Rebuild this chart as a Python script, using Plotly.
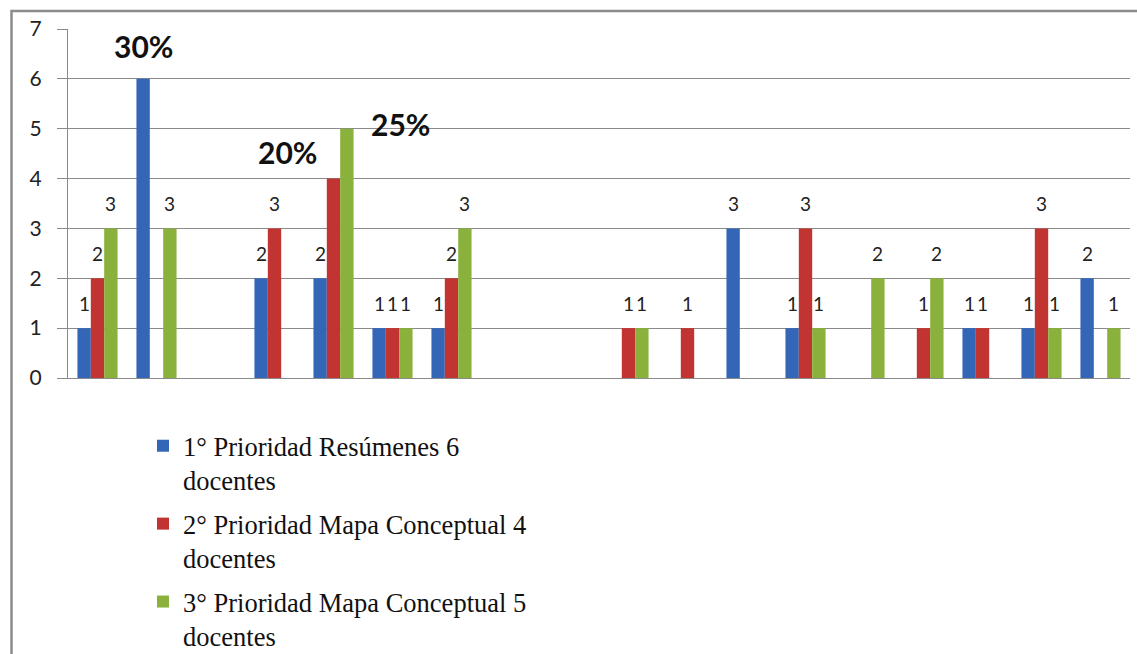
import plotly.graph_objects as go

# ---------------- data ----------------
categories = list(range(18))  # 18 unlabeled categories
series_names = [
    "1° Prioridad Resúmenes 6<br>docentes",
    "2° Prioridad Mapa Conceptual 4<br>docentes",
    "3° Prioridad Mapa Conceptual 5<br>docentes",
]
prioridad1 = [1, 6, 0, 2, 2, 1, 1, 0, 0, 0, 0, 3, 1, 0, 0, 1, 1, 2]
prioridad2 = [2, 0, 0, 3, 4, 1, 2, 0, 0, 1, 1, 0, 3, 0, 1, 1, 3, 0]
prioridad3 = [3, 3, 0, 0, 5, 1, 3, 0, 0, 1, 0, 0, 1, 2, 2, 0, 1, 1]
# (series index, category index, text) labels that replace the value label
percent_series = [0, 1, 2]
percent_categories = [1, 4, 4]
percent_texts = ["30%", "20%", "25%"]
y_ticks = [0, 1, 2, 3, 4, 5, 6, 7]

series_values = [prioridad1, prioridad2, prioridad3]
colors = ["#3466B8", "#C23431", "#8AB13C"]

W, H = 1137, 654
margin = dict(l=68, r=7, t=29, b=276, autoexpand=False)
bargap = 0.32
bw = (1 - bargap) / 3
grid_col = "#8A8A8A"

fig = go.Figure()
for k, (name, vals) in enumerate(zip(series_names, series_values)):
    fig.add_trace(go.Bar(
        x=categories, y=[v if v > 0 else None for v in vals], name=name,
        offsetgroup=str(k), legendgroup=str(k),
        marker=dict(color=colors[k], line=dict(width=0)),
        hoverinfo="skip",
    ))

annotations = []
pct_lookup = {(s, c): t for s, c, t in zip(percent_series, percent_categories, percent_texts)}
pct_shift = {"30%": (0, 33), "20%": (-46, 27), "25%": (54, 5)}
for k, vals in enumerate(series_values):
    for i, v in zip(categories, vals):
        if v <= 0:
            continue
        xc = i + (k - 1) * bw
        if (k, i) in pct_lookup:
            t = pct_lookup[(k, i)]
            dx, dy = pct_shift[t]
            annotations.append(dict(
                x=xc, y=v, xref="x", yref="y", text=f"<b>{t}</b>", showarrow=False,
                xshift=dx, yshift=dy, yanchor="middle",
                font=dict(family="Lato", size=30, color="#111111")))
        else:
            annotations.append(dict(
                x=xc, y=v, xref="x", yref="y", text=str(v), showarrow=False,
                yshift=25, yanchor="middle",
                font=dict(family="Lato", size=19, color="#222222")))

pw = W - margin["l"] - margin["r"]
ph = H - margin["t"] - margin["b"]
zero_px = H - margin["b"]
border = dict(
    type="rect", xref="paper", yref="paper", layer="above",
    x0=(11.5 - margin["l"]) / pw, x1=(W + 20 - margin["l"]) / pw,
    y0=(zero_px - (H + 20)) / ph, y1=(zero_px - 11) / ph,
    line=dict(color="#8C8C8C", width=2.5), fillcolor="rgba(0,0,0,0)",
)

fig.update_layout(
    width=W, height=H, margin=margin,
    paper_bgcolor="white", plot_bgcolor="white",
    barmode="group", bargap=bargap, bargroupgap=0,
    annotations=annotations, shapes=[border],
    showlegend=True,
    legend=dict(
        x=(143 - margin["l"]) / pw, y=(zero_px - 422) / ph,
        xanchor="left", yanchor="top", orientation="v", valign="top",
        font=dict(family="Liberation Serif", size=26.5, color="#111111"),
        tracegroupgap=6, bgcolor="rgba(0,0,0,0)", itemwidth=30,
    ),
    xaxis=dict(
        range=[-0.5, 17.5], showticklabels=False, ticks="", showgrid=False,
        showline=True, linecolor=grid_col, linewidth=1, zeroline=False,
    ),
    yaxis=dict(
        range=[0, 7], tickvals=y_ticks, ticks="outside", ticklen=10,
        tickcolor=grid_col, tickwidth=1, showgrid=True, gridcolor=grid_col,
        gridwidth=1, showline=True, linecolor=grid_col, linewidth=1,
        zeroline=False, ticklabelstandoff=11,
        tickfont=dict(family="Lato", size=21, color="#222222"),
    ),
)

fig.write_html(
    "out.html",
    config={"displayModeBar": False},
    post_script="document.body.style.margin='0px';document.body.style.overflow='hidden';",
)
